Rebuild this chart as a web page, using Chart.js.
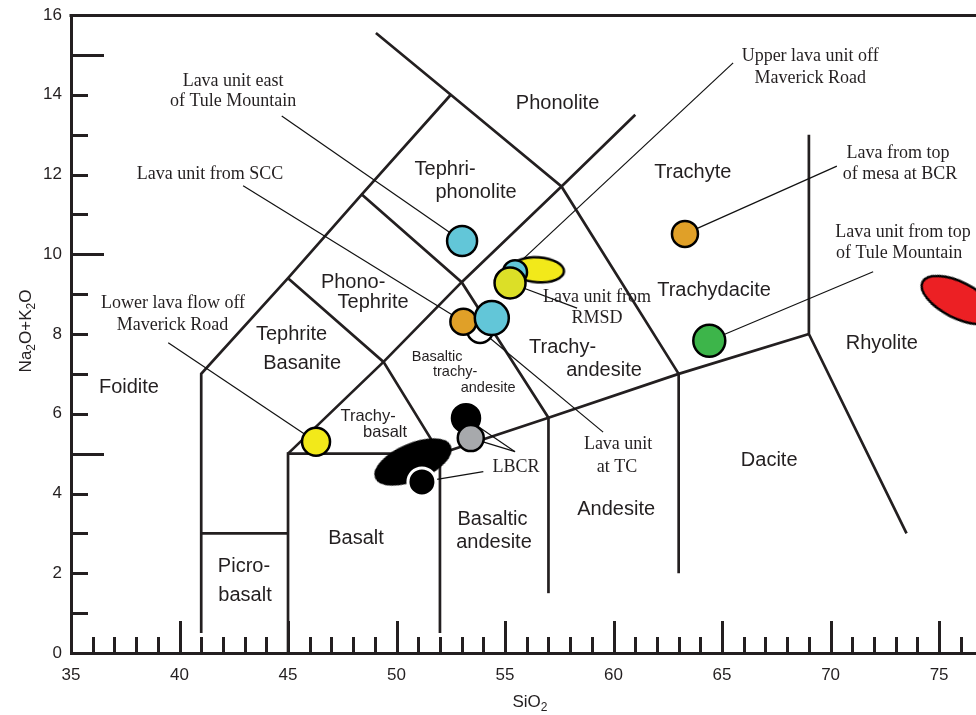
<!DOCTYPE html>
<html>
<head>
<meta charset="utf-8">
<script src="https://cdn.jsdelivr.net/npm/chart.js@4/dist/chart.umd.min.js"></script>
<style>
  html, body { margin: 0; padding: 0; background: #fff; }
  canvas { display: block; }
</style>
</head>
<body>
<canvas id="tas" width="976" height="715"></canvas>
<script>
const INK = '#231f20';
const SANS = '"Liberation Sans", Arial, Helvetica, sans-serif';
const SERIF = '"Liberation Serif", "Times New Roman", serif';

// ---- axes -------------------------------------------------------------
const xTickLabels = [35, 40, 45, 50, 55, 60, 65, 70, 75];
const yTickLabels = [0, 2, 4, 6, 8, 10, 12, 14, 16];
const xMin = 35, xMax = 76.7;
const yMin = 0, yMax = 16;

// ---- TAS field boundaries, [SiO2, Na2O+K2O] vertices -------------------
const foiditeLine      = [[41, 0.5], [41, 7], [45, 9.4], [48.4, 11.5], [52.5, 14]];
const picrobasaltTop   = [[41, 3], [45, 3]];
const basaltBox        = [[45, 0], [45, 5], [52, 5]];
const subalkalineTop   = [[52, 0.5], [52, 5], [57, 5.9], [63, 7], [69, 8]];
const andesiteLeft     = [[57, 1.5], [57, 5.9]];
const daciteLeft       = [[63, 2], [63, 7]];
const rhyoliteLines    = [[69, 13], [69, 8], [73.5, 3]];
const longDiagonal     = [[45, 5], [49.4, 7.3], [53, 9.3], [57.6, 11.7], [61, 13.5]];
const tephriteRight    = [[52, 5], [49.4, 7.3], [45, 9.4]];
const phonotephriteTop = [[48.4, 11.5], [53, 9.3], [57, 5.9]];
const phonoliteBase    = [[49.05, 15.55], [52.5, 14], [57.6, 11.7], [63, 7]];
const boundaries = [foiditeLine, picrobasaltTop, basaltBox, subalkalineTop, andesiteLeft,
  daciteLeft, rhyoliteLines, longDiagonal, tephriteRight, phonotephriteTop, phonoliteBase];

// ---- samples (listed bottom-most first) ------------------------------
const sampleSiO2   = [53.85, 53.08, 54.39, 53.02, 56.52, 55.46, 55.23, 53.20, 53.42, 50.76, 51.17, 46.29, 63.29, 64.41, 75.88];
const sampleAlkali = [ 8.10,  8.31,  8.40, 10.33,  9.61,  9.55,  9.28,  5.89,  5.39,  4.79,  4.29,  5.30, 10.51,  7.83,  8.85];

// marker look for each sample, same order
const CYAN = '#62c6d8', ORANGE = '#e0a028', YELLOW = '#f2e91a', LIME = '#dcdf27',
      GREEN = '#3db54a', RED = '#ec2024', GREY = '#a7a9ac';
const sampleStyles = [
  { fill: '#ffffff', r: 13 },
  { fill: ORANGE, r: 13 },
  { fill: CYAN, r: 17 },
  { fill: CYAN, r: 15 },
  { fill: YELLOW, ellipse: [26, 12.5], rot: 4 },
  { fill: CYAN, r: 12 },
  { fill: LIME, r: 15.5 },
  { fill: '#000000', r: 14 },
  { fill: GREY, r: 13 },
  { fill: '#000000', ellipse: [40, 17.5], rot: -23 },
  { fill: '#000000', r: 14, border: '#ffffff', bw: 3 },
  { fill: YELLOW, r: 14 },
  { fill: ORANGE, r: 13 },
  { fill: GREEN, r: 16 },
  { fill: RED, ellipse: [40, 18], rot: 27 }
];

// ---- leader lines: label-side end and the sample they point to -------
const leaderFrom   = [[44.71, 13.47], [42.93, 11.72], [65.51, 14.80], [70.29, 12.21], [71.96, 9.56],
                      [39.48, 7.78], [58.32, 8.65], [59.52, 5.54], [55.46, 5.05], [55.46, 5.05], [54.0, 4.55]];
const leaderSample = [3, 1, null, 12, 13, 11, 6, 0, 7, 8, 10];
const leaderTo     = [null, null, [55.69, 9.81], null, null, null, null, null, null, null, null];

// ---- sample annotations ------------------------------------------------
const noteText = ['Lava unit east', 'of Tule Mountain', 'Lava unit from SCC', 'Upper lava unit off', 'Maverick Road',
  'Lava from top', 'of mesa at BCR', 'Lava unit from top', 'of Tule Mountain', 'Lower lava flow off', 'Maverick Road',
  'Lava unit from', 'RMSD', 'Lava unit', 'at TC', 'LBCR'];
const noteX = [42.47, 42.47, 41.41, 69.06, 69.06, 73.11, 73.20, 73.34, 73.16, 39.70, 39.68, 59.24, 59.24, 60.21, 60.16, 55.51];
const noteY = [14.35, 13.83, 12.01, 14.97, 14.42, 12.54, 12.01, 10.56, 10.03, 8.78, 8.23, 8.93, 8.40, 5.24, 4.66, 4.66];

// ---- rock field names -------------------------------------------------
const fieldText = ['Phonolite', 'Tephri-', 'phonolite', 'Trachyte', 'Trachydacite', 'Rhyolite', 'Dacite', 'Andesite',
  'Basaltic', 'andesite', 'Basalt', 'Picro-', 'basalt', 'Foidite', 'Tephrite', 'Basanite', 'Phono-', 'Tephrite',
  'Trachy-', 'andesite', 'Basaltic', 'trachy-', 'andesite', 'Trachy-', 'basalt'];
const fieldX = [57.42, 52.24, 53.66, 63.65, 64.63, 72.36, 67.17, 60.12, 54.42, 54.49, 48.13, 42.97, 43.02, 37.67,
  45.16, 45.65, 48.00, 48.92, 57.65, 59.56, 51.87, 52.70, 54.22, 48.69, 49.47];
const fieldY = [13.77, 12.13, 11.56, 12.04, 9.08, 7.77, 4.82, 3.61, 3.34, 2.76, 2.88, 2.16, 1.45, 6.67,
  7.99, 7.26, 9.28, 8.78, 7.65, 7.09, 7.42, 7.05, 6.65, 5.92, 5.52];
const fieldSize = fieldText.map((t, i) => (i >= 20 && i <= 22) ? 14.5 : (i >= 23 ? 16.5 : 20));

// ---------------------------------------------------------------------
function ellipseImage(rx, ry, fill) {
  const lw = 2.5;
  const c = document.createElement('canvas');
  c.width = Math.ceil(2 * rx + lw + 2);
  c.height = Math.ceil(2 * ry + lw + 2);
  const g = c.getContext('2d');
  g.beginPath();
  g.ellipse(c.width / 2, c.height / 2, rx, ry, 0, 0, Math.PI * 2);
  g.fillStyle = fill;
  g.fill();
  g.lineWidth = lw;
  g.strokeStyle = '#000';
  g.stroke();
  return c;
}

const datasets = [];

boundaries.forEach(poly => {
  datasets.push({
    type: 'scatter', showLine: true, data: poly.map(p => ({ x: p[0], y: p[1] })),
    borderColor: INK, borderWidth: 2.7, pointRadius: 0, borderJoinStyle: 'miter',
    borderCapStyle: 'butt', clip: false
  });
});

leaderFrom.forEach((p, i) => {
  const s = leaderSample[i];
  const end = s === null ? leaderTo[i] : [sampleSiO2[s], sampleAlkali[s]];
  datasets.push({
    type: 'scatter', showLine: true, data: [{ x: p[0], y: p[1] }, { x: end[0], y: end[1] }],
    borderColor: '#111', borderWidth: 1.2, pointRadius: 0, clip: false
  });
});

sampleSiO2.forEach((x, i) => {
  const st = sampleStyles[i];
  const ds = { type: 'scatter', data: [{ x: x, y: sampleAlkali[i] }], clip: false };
  if (st.ellipse) {
    ds.pointStyle = ellipseImage(st.ellipse[0], st.ellipse[1], st.fill);
    ds.pointRadius = st.ellipse[0];
    ds.pointRotation = st.rot;
  } else {
    ds.pointStyle = 'circle';
    ds.pointRadius = st.r;
    ds.pointBackgroundColor = st.fill;
    ds.pointBorderColor = st.border || '#000';
    ds.pointBorderWidth = st.bw || 2.5;
  }
  datasets.push(ds);
});

// later datasets drawn on top
datasets.forEach((d, i) => { d.order = datasets.length - i; });

// tick marks pointing into the plot, top frame line
const frameTicks = {
  id: 'frameTicks',
  beforeDatasetsDraw(chart) {
    const { ctx, scales: { x, y }, chartArea: a } = chart;
    ctx.save();
    ctx.strokeStyle = INK;
    ctx.lineWidth = 3;
    ctx.lineCap = 'butt';
    for (let v = yMin + 1; v < yMax; v++) {
      const py = Math.round(y.getPixelForValue(v)) + 0.5;
      const len = v % 5 === 0 ? 33 : 17;
      ctx.beginPath(); ctx.moveTo(a.left, py); ctx.lineTo(a.left + len, py); ctx.stroke();
    }
    for (let v = xMin + 1; v <= Math.floor(xMax); v++) {
      const px = Math.round(x.getPixelForValue(v)) + 0.5;
      const len = v % 5 === 0 ? 32 : 16;
      ctx.beginPath(); ctx.moveTo(px, a.bottom); ctx.lineTo(px, a.bottom - len); ctx.stroke();
    }
    const top = Math.round(y.getPixelForValue(yMax)) + 0.5;
    ctx.beginPath(); ctx.moveTo(a.left - 1.5, top); ctx.lineTo(a.right, top); ctx.stroke();
    ctx.restore();
  }
};

// draws a run of [text, isSubscript] pieces centred on (0, 0)
function drawRich(ctx, parts, size, subSize) {
  const widths = parts.map(p => {
    ctx.font = (p[1] ? subSize : size) + 'px ' + SANS;
    return ctx.measureText(p[0]).width;
  });
  let cx = -widths.reduce((s, w) => s + w, 0) / 2;
  ctx.textBaseline = 'alphabetic';
  ctx.textAlign = 'left';
  parts.forEach((p, i) => {
    ctx.font = (p[1] ? subSize : size) + 'px ' + SANS;
    ctx.fillText(p[0], cx, p[1] ? size * 0.36 + 4 : size * 0.36);
    cx += widths[i];
  });
}

const textLayer = {
  id: 'textLayer',
  afterDatasetsDraw(chart) {
    const { ctx, scales: { x, y } } = chart;
    ctx.save();
    ctx.fillStyle = INK;
    ctx.textAlign = 'center';
    ctx.textBaseline = 'middle';
    fieldText.forEach((t, i) => {
      ctx.font = fieldSize[i] + 'px ' + SANS;
      ctx.fillText(t, x.getPixelForValue(fieldX[i]), y.getPixelForValue(fieldY[i]));
    });
    ctx.font = '18px ' + SERIF;
    noteText.forEach((t, i) => {
      ctx.fillText(t, x.getPixelForValue(noteX[i]), y.getPixelForValue(noteY[i]));
    });
    // axis titles
    ctx.save();
    ctx.translate(x.getPixelForValue(56.15), 701);
    drawRich(ctx, [['SiO', false], ['2', true]], 17, 12);
    ctx.restore();
    ctx.save();
    ctx.translate(25, 331);
    ctx.rotate(-Math.PI / 2);
    drawRich(ctx, [['Na', false], ['2', true], ['O+K', false], ['2', true], ['O', false]], 17, 12);
    ctx.restore();
    ctx.restore();
  }
};

new Chart(document.getElementById('tas'), {
  data: { datasets },
  options: {
    responsive: false,
    animation: false,
    events: [],
    layout: { autoPadding: false, padding: { top: 15, right: 0, left: 0, bottom: 0 } },
    plugins: { legend: { display: false }, tooltip: { enabled: false } },
    scales: {
      x: {
        type: 'linear', min: xMin, max: xMax,
        afterBuildTicks: s => { s.ticks = xTickLabels.map(v => ({ value: v })); },
        afterFit: s => { s.height = 62; s.paddingLeft = 0; s.paddingRight = 0; },
        grid: { display: false, drawTicks: false },
        border: { display: true, width: 3, color: INK },
        ticks: { padding: 12, color: INK, maxRotation: 0, autoSkip: false, font: { family: SANS, size: 17 } }
      },
      y: {
        type: 'linear', min: yMin, max: yMax,
        afterBuildTicks: s => { s.ticks = yTickLabels.map(v => ({ value: v })); },
        afterFit: s => { s.width = 71; s.paddingTop = 0; s.paddingBottom = 0; },
        grid: { display: false, drawTicks: false },
        border: { display: true, width: 3, color: INK },
        ticks: { padding: 9, color: INK, autoSkip: false, font: { family: SANS, size: 17 } }
      }
    }
  },
  plugins: [frameTicks, textLayer]
});
</script>
</body>
</html>
